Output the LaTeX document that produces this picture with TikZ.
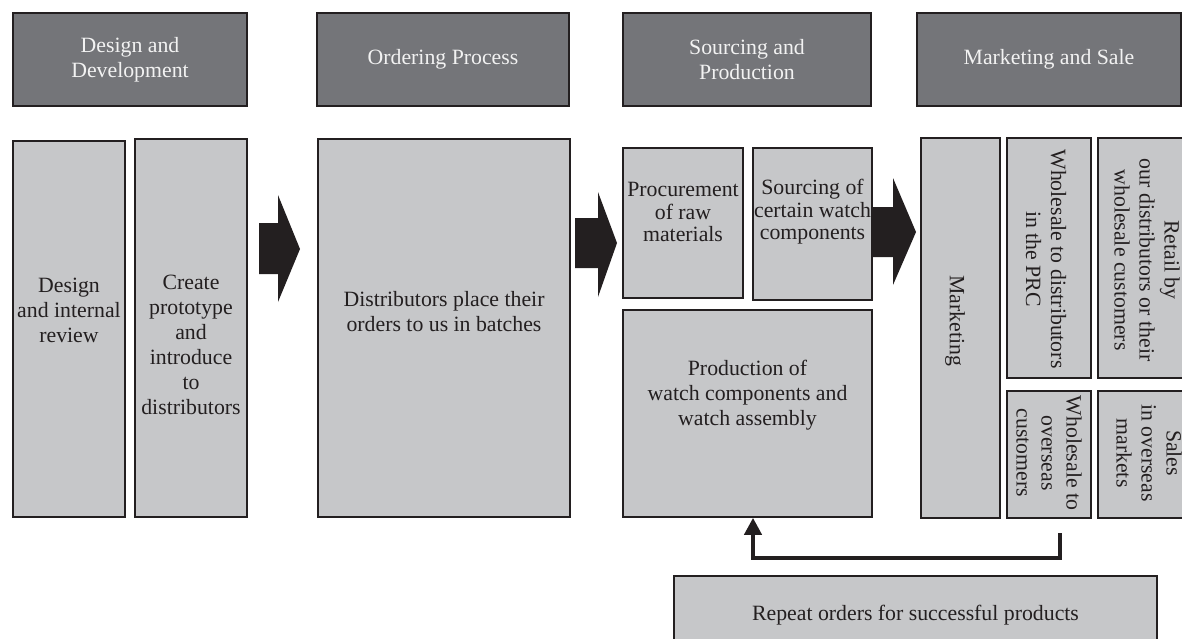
\documentclass[tikz,border=0pt]{standalone}
\usepackage{fontspec}
\setmainfont{Liberation Serif}
\usetikzlibrary{arrows.meta}
\definecolor{headfill}{HTML}{747579}
\definecolor{boxfill}{HTML}{C6C7C9}
\definecolor{ink}{HTML}{231F20}
\definecolor{headtext}{HTML}{F2F2F2}
\tikzset{
  head/.style={draw=ink, fill=headfill, line width=1.5pt, inner sep=0pt,
    text=headtext, align=center, font=\fontsize{21.8}{25}\selectfont},
  box/.style={draw=ink, fill=boxfill, line width=1.6pt, inner sep=0pt,
    text=ink, align=center, font=\fontsize{21.8}{25}\selectfont},
  txt/.style={inner sep=0pt, text=ink, align=center, font=\fontsize{21.8}{25}\selectfont},
  tight/.style={inner sep=0pt, text=ink, align=center, font=\fontsize{21.8}{22.5}\selectfont},
  vtxt/.style={txt, rotate=-90},
  blockarrow/.style={fill=ink},
  feedback/.style={draw=ink, line width=4pt, -{Triangle[width=17pt,length=17pt]}}
}
\begin{document}
\begin{tikzpicture}[x=1pt, y=-1pt]
\useasboundingbox (0,0) rectangle (1182,638);
\clip (0,0) rectangle (1182,638);

% stage headers
\node[head, minimum width=234pt, minimum height=93pt] (h1) at (130,59.5) {Design and\\Development};
\node[head, minimum width=252pt, minimum height=93pt] (h2) at (443,59.5) {Ordering Process};
\node[head, minimum width=248pt, minimum height=93pt] (h3) at (747,59.5) {Sourcing and\\Production};
\node[head, minimum width=264pt, minimum height=93pt] (h4) at (1049,59.5) {Marketing and Sale};

% design and development
\node[box, minimum width=112pt, minimum height=376pt] (design) at (69,329) {};
\node[txt] (designT) at (69,310) {Design\\and internal\\review};
\node[box, minimum width=112pt, minimum height=378pt] (proto) at (191,328) {};
\node[txt] (protoT) at (191,345) {Create\\prototype\\and\\introduce\\to\\distributors};

% ordering process
\node[box, minimum width=252pt, minimum height=378pt] (order) at (444,328) {};
\node[txt] (orderT) at (444,312) {Distributors place their\\orders to us in batches};

% sourcing and production
\node[box, minimum width=120pt, minimum height=150pt] (proc) at (683,223) {};
\node[tight] (procT) at (683,212) {Procurement\\of raw\\materials};
\node[box, minimum width=119pt, minimum height=152pt] (src) at (812.5,224) {};
\node[tight] (srcT) at (812.5,212) {Sourcing of\\certain watch\\components};
\node[box, minimum width=249pt, minimum height=207pt] (prod) at (747.5,413.5) {};
\node[txt] (prodT) at (747.5,395) {Production of\\watch components and\\watch assembly};

% marketing and sale
\node[box, minimum width=79pt, minimum height=380pt] (mkt) at (960.5,328) {};
\node[vtxt] (mktT) at (955,321) {Marketing};
\node[box, minimum width=84pt, minimum height=240pt] (prc) at (1049,258) {};
\node[vtxt] (prcT) at (1046,259) {Wholesale to distributors\\in the PRC};
\node[box, minimum width=97pt, minimum height=240pt] (retail) at (1146.5,258) {};
\node[vtxt] (retailT) at (1147,260) {Retail by\\our distributors or their\\wholesale customers};
\node[box, minimum width=84pt, minimum height=127pt] (wos) at (1049,454.5) {};
\node[vtxt] (wosT) at (1049,453) {Wholesale to\\overseas\\customers};
\node[box, minimum width=97pt, minimum height=127pt] (sales) at (1146.5,454.5) {};
\node[vtxt] (salesT) at (1149,453) {Sales\\in overseas\\markets};

% repeat orders
\node[box, minimum width=483pt, minimum height=84pt] (repeat) at (915.5,618) {};
\node[txt] (repeatT) at (915.5,615) {Repeat orders for successful products};

% block arrows between the stages
\fill[blockarrow] (259,223) -- (278,223) -- (278,195) -- (300,249) -- (278,302) -- (278,274) -- (259,274) -- cycle;
\fill[blockarrow] (575,218) -- (598,218) -- (598,192) -- (617,243) -- (598,297) -- (598,268) -- (575,268) -- cycle;
\fill[blockarrow] (873,207) -- (893,207) -- (893,178) -- (916,232) -- (893,285) -- (893,257) -- (873,257) -- cycle;

% feedback loop into production
\coordinate (fbstart) at (1060,533);
\draw[feedback] (fbstart) -- ++(0,25) -| ([xshift=5.5pt]prod.south);
\end{tikzpicture}
\end{document}
